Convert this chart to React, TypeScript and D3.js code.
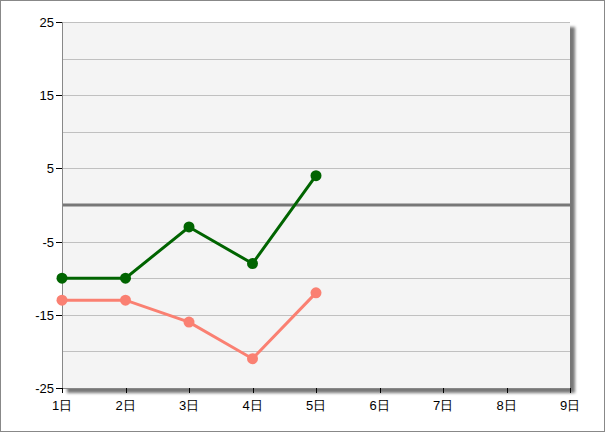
import React from "react";
import * as d3 from "d3";

const days = ["1日", "2日", "3日", "4日", "5日", "6日", "7日", "8日", "9日"];
const greenValues = [-10, -10, -3, -8, 4];
const salmonValues = [-13, -13, -16, -21, -12];
const yTickLabels = [25, 15, 5, -5, -15, -25];
const yGridValues = [25, 20, 15, 10, 5, -5, -10, -15, -20, -25];

export default function App() {
  const W = 605, H = 432;
  const left = 62, right = 570, top = 22, bottom = 388;
  const x = d3.scaleLinear().domain([1, 9]).range([left, right]);
  const y = d3.scaleLinear().domain([-25, 25]).range([bottom, top]);
  const line = d3.line<number>().x((_, i) => x(i + 1)).y((v) => y(v));
  const font = "'Liberation Sans', Arial, sans-serif";
  return (
    <svg width={W} height={H} style={{ position: "absolute", left: 0, top: 0 }}>
      <defs>
        <filter id="sh" x="-5%" y="-5%" width="115%" height="115%">
          <feGaussianBlur stdDeviation="1.5" />
        </filter>
      </defs>
      <rect x={0.5} y={0.5} width={W - 1} height={H - 1} fill="white" stroke="#888" />
      <rect x={left + 5} y={top + 5} width={right - left} height={bottom - top} fill="#777" filter="url(#sh)" />
      <rect x={left} y={top} width={right - left} height={bottom - top} fill="#f4f4f4" />
      {yGridValues.map((v) => (
        <line key={v} x1={left} x2={right} y1={Math.round(y(v)) + 0.5} y2={Math.round(y(v)) + 0.5} stroke="#c0c0c0" />
      ))}
      <line x1={left} x2={right} y1={y(0)} y2={y(0)} stroke="#777" strokeWidth={3} />
      <line x1={left + 0.5} x2={left + 0.5} y1={top} y2={bottom} stroke="#888" />
      <line x1={left} x2={right} y1={bottom + 0.5} y2={bottom + 0.5} stroke="#888" />
      {yTickLabels.map((v) => (
        <g key={v}>
          <line x1={56} x2={left} y1={Math.round(y(v)) + 0.5} y2={Math.round(y(v)) + 0.5} stroke="#000" />
          <text x={54} y={y(v) + 5} textAnchor="end" fontSize={13} fontFamily={font} fill="#000">{v}</text>
        </g>
      ))}
      {days.map((d, i) => (
        <g key={d}>
          <line x1={Math.round(x(i + 1)) + 0.5} x2={Math.round(x(i + 1)) + 0.5} y1={bottom} y2={bottom + 5} stroke="#000" />
          <text x={x(i + 1)} y={410} textAnchor="middle" fontSize={13} fontFamily={font} fill="#000">{d}</text>
        </g>
      ))}
      <path d={line(salmonValues) || ""} fill="none" stroke="#fa8072" strokeWidth={3} />
      {salmonValues.map((v, i) => (
        <circle key={i} cx={x(i + 1)} cy={y(v)} r={5.5} fill="#fa8072" />
      ))}
      <path d={line(greenValues) || ""} fill="none" stroke="#006400" strokeWidth={3} />
      {greenValues.map((v, i) => (
        <circle key={i} cx={x(i + 1)} cy={y(v)} r={5.5} fill="#006400" />
      ))}
    </svg>
  );
}
